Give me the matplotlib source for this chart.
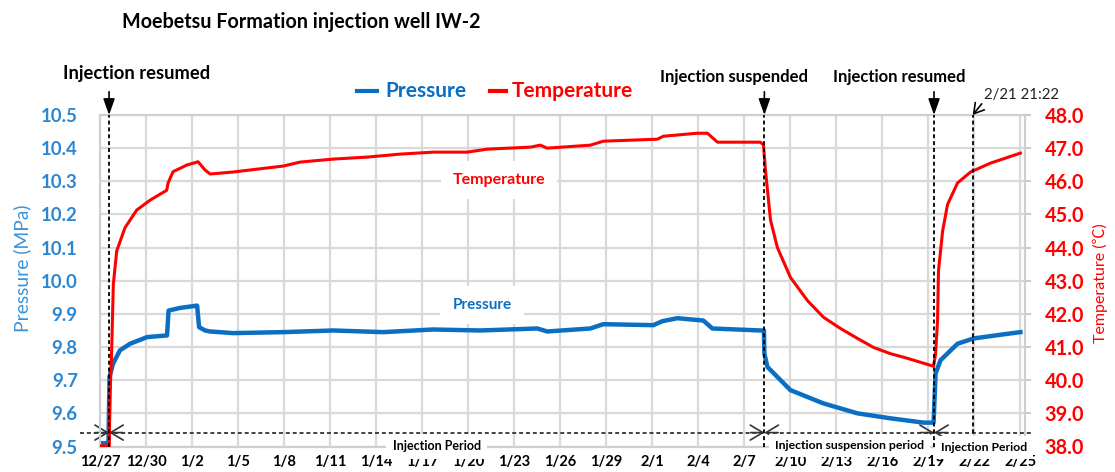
import matplotlib
matplotlib.use('Agg')
import matplotlib.pyplot as plt
import matplotlib.transforms as mtransforms
from matplotlib.lines import Line2D

plt.rcParams['font.family'] = ['Lato', 'DejaVu Sans']

# ---------------- data ----------------
tick_days = list(range(0, 61, 3))
tick_labels = ['12/27', '12/30', '1/2', '1/5', '1/8', '1/11', '1/14', '1/17', '1/20',
               '1/23', '1/26', '1/29', '2/1', '2/4', '2/7', '2/10', '2/13', '2/16',
               '2/19', '2/22', '2/25']

# days since 12/27 00:00
pressure_days = [0.0, 0.46, 0.55, 0.62, 0.85, 1.30, 1.96, 3.07, 4.37, 4.47, 5.22, 6.33,
                 6.46, 6.85, 7.18, 8.68, 11.94, 15.2, 18.46, 21.72, 24.79, 28.5, 29.16,
                 31.96, 32.81, 36.07, 36.66, 37.64, 39.33, 39.92, 43.05, 43.28, 43.31,
                 43.51, 45.01, 47.16, 49.38, 51.53, 53.69, 54.34, 54.47, 54.79, 55.9,
                 56.95, 59.17, 60.0]
pressure_mpa = [9.51, 9.51, 9.51, 9.71, 9.75, 9.79, 9.81, 9.83, 9.835, 9.91, 9.918, 9.925,
                9.86, 9.85, 9.847, 9.842, 9.845, 9.85, 9.845, 9.853, 9.85, 9.856, 9.847,
                9.856, 9.869, 9.866, 9.878, 9.887, 9.88, 9.856, 9.85, 9.85, 9.78,
                9.74, 9.67, 9.63, 9.60, 9.585, 9.572, 9.572, 9.72, 9.76, 9.81,
                9.826, 9.84, 9.845]

temp_days = [0.0, 0.46, 0.6, 0.65, 0.76, 0.87, 1.09, 1.63, 2.39, 3.26, 4.35, 4.44, 4.76,
             5.66, 6.39, 6.85, 7.18, 8.68, 11.94, 13.05, 15.2, 17.42, 19.57, 21.72, 23.94,
             25.25, 28.05, 28.7, 29.16, 31.96, 32.81, 36.33, 36.73, 38.94, 39.6, 40.25,
             43.05, 43.25, 43.38, 43.71, 44.16, 45.01, 46.12, 47.16, 48.27, 49.38, 50.42,
             51.53, 52.64, 54.34, 54.47, 54.6, 54.66, 54.93, 55.25, 55.9, 56.75, 58.06, 60.0]
temp_c = [38.02, 38.02, 38.0, 39.5, 40.9, 42.9, 43.9, 44.6, 45.13, 45.43, 45.73, 45.95, 46.29,
          46.49, 46.59, 46.34, 46.22, 46.28, 46.46, 46.58, 46.67, 46.73, 46.82, 46.88, 46.88,
          46.97, 47.03, 47.09, 47.0, 47.09, 47.21, 47.27, 47.36, 47.45, 47.45, 47.18,
          47.18, 47.1, 46.34, 44.83, 44.0, 43.1, 42.4, 41.9, 41.56, 41.26, 40.99,
          40.8, 40.66, 40.42, 40.8, 41.8, 43.3, 44.5, 45.3, 45.95, 46.28, 46.55, 46.85]

resume1_day = 0.59
suspend_day = 43.31
resume2_day = 54.37
mark_day = 56.89          # 2/21 21:22
period_line_mpa = 9.542

# ---------------- style ----------------
W, H = 1115, 472
BLUE = '#0A6FC2'
BLUE_T = '#2C86D2'
RED = '#FF0000'
GRID = '#d9d9d9'

fig = plt.figure(figsize=(W / 100, H / 100), dpi=100)
ax = fig.add_axes([100 / W, 25.5 / H, 925 / W, 331.5 / H])
ax2 = ax.twinx()

ax.set_xlim(0, 60.3)
ax.set_ylim(9.5, 10.5)
ax2.set_ylim(38.0, 48.0)

ax.set_yticks([9.5 + 0.1 * i for i in range(11)])
ax.set_yticklabels([f'{9.5 + 0.1 * i:.1f}' for i in range(11)])
ax2.set_yticks([38.0 + i for i in range(11)])
ax2.set_yticklabels([f'{38.0 + i:.1f}' for i in range(11)])
ax.set_xticks(tick_days)
ax.set_xticklabels(tick_labels)

ax.grid(True, color=GRID, lw=1.6)
ax.set_axisbelow(True)
for a in (ax, ax2):
    for s in a.spines.values():
        s.set_color('#cfcfcf')
        s.set_linewidth(1.5)

ax.tick_params(axis='y', length=0, pad=16, labelsize=13.4, labelcolor=BLUE_T)
for t in ax.get_yticklabels():
    t.set_fontweight('bold')
ax.tick_params(axis='x', length=0, pad=6, labelsize=10.5, labelcolor='black')
for t in ax.get_xticklabels():
    t.set_fontweight('bold')
ax2.tick_params(axis='y', length=4, width=1.2, color='#bfbfbf', pad=10,
                labelsize=14.3, labelcolor=RED)
for t in ax2.get_yticklabels():
    t.set_fontweight('bold')

ax.set_ylabel('Pressure (MPa)', color='#3A93DA', fontsize=13.9)
ax.yaxis.set_label_coords(-0.0746, 0.538)
ax2.set_ylabel('Temperature (℃)', color=RED, fontsize=11.5, rotation=90,
               family=['Lato', 'Noto Sans CJK JP', 'DejaVu Sans'])
ax2.yaxis.set_label_coords(1.0735, 0.493)

# lines
ax.plot(pressure_days, pressure_mpa, color=BLUE, lw=3.2, solid_joinstyle='round', zorder=3)
ax2.plot(temp_days, temp_c, color=RED, lw=2.2, solid_joinstyle='round', zorder=3)

# inner labels
ax2.text(26.0, 46.04, 'Temperature', color=RED, fontsize=11.5, fontweight='bold',
         ha='center', va='center', zorder=2,
         bbox=dict(boxstyle='square,pad=0.75', fc='white', ec='none'))
ax.text(24.9, 9.927, 'Pressure', color=BLUE, fontsize=11, fontweight='bold',
        ha='center', va='center', zorder=2,
        bbox=dict(boxstyle='square,pad=0.8', fc='white', ec='none'))

# event vertical lines
trans_x = mtransforms.blended_transform_factory(ax.transData, ax.transAxes)
dash = (0, (2.2, 1.6))
for d in (resume1_day, suspend_day, resume2_day, mark_day):
    ax2.plot([d, d], [0, 1], transform=trans_x, color='black', lw=1.3,
             linestyle=dash, clip_on=False, zorder=5)
for d in (resume1_day, suspend_day, resume2_day):
    ax2.annotate('', xy=(d, 1.0), xytext=(d, 1.07), xycoords=trans_x, textcoords=trans_x,
                 arrowprops=dict(arrowstyle='-|>,head_length=0.7,head_width=0.25',
                                 color='black', lw=1.2, shrinkA=0, shrinkB=0,
                                 mutation_scale=14),
                 annotation_clip=False)

# horizontal period line
trans_y = mtransforms.blended_transform_factory(ax.transAxes, ax.transData)
ax.plot([-0.022, 1.008], [period_line_mpa, period_line_mpa], transform=trans_y,
        color='#333333', lw=1.3, linestyle=dash, clip_on=False, zorder=5)
hl = 0.9
for d in (resume1_day, suspend_day, resume2_day):
    for s in (-1, 1):
        ax.annotate('', xy=(d, period_line_mpa), xytext=(d + s * hl, period_line_mpa),
                    arrowprops=dict(arrowstyle='->,head_length=0.5,head_width=0.3',
                                    color='#333333', lw=1.2, shrinkA=0, shrinkB=0,
                                    mutation_scale=18),
                    annotation_clip=False, zorder=6)

# period labels sitting on the bottom border
plab = dict(fontweight='bold', color='black', ha='center', va='center',
            zorder=7, clip_on=False,
            bbox=dict(boxstyle='square,pad=0.5', fc='white', ec='none'))
ax2.text((resume1_day + suspend_day) / 2, 38.0, 'Injection Period', fontsize=9, **plab)
ax2.text((suspend_day + resume2_day) / 2, 38.04, 'Injection suspension period',
         fontsize=8.8, **plab)
ax2.text((resume2_day + 60.3) / 2 + 0.3, 37.96, 'Injection Period', fontsize=8.8, **plab)

# event texts
def ftext(x, y, s, **kw):
    fig.text(x / W, 1 - y / H, s, **kw)

ftext(137, 74, 'Injection resumed', fontsize=13.2, fontweight='bold', ha='center',
      va='center')
ftext(734, 77, 'Injection suspended', fontsize=12, fontweight='bold', ha='center',
      va='center')
ftext(899, 77, 'Injection resumed', fontsize=12, fontweight='bold', ha='center',
      va='center')

ax2.annotate('2/21 21:22', xy=(mark_day, 1.0), xycoords=trans_x,
             xytext=(8.5, 9), textcoords='offset points', fontsize=10.8,
             ha='left', va='bottom', color='#222222',
             arrowprops=dict(arrowstyle='->,head_length=0.5,head_width=0.3', color='black',
                             lw=1.2, shrinkA=0, shrinkB=0, relpos=(0, 0.15),
                             mutation_scale=14),
             annotation_clip=False)

# title
ftext(122, 22, 'Moebetsu Formation injection well IW-2', fontsize=14.2, fontweight='bold',
      ha='left', va='center')

# legend
fig.add_artist(Line2D([357 / W, 377 / W], [1 - 91 / H, 1 - 91 / H], color=BLUE, lw=3))
ftext(385, 91, 'Pressure', fontsize=15, fontweight='bold', color=BLUE, ha='left',
      va='center')
fig.add_artist(Line2D([490 / W, 506 / W], [1 - 91 / H, 1 - 91 / H], color=RED, lw=3))
ftext(512, 91, 'Temperature', fontsize=15, fontweight='bold', color=RED, ha='left',
      va='center')

fig.savefig('out.png', dpi=100)
